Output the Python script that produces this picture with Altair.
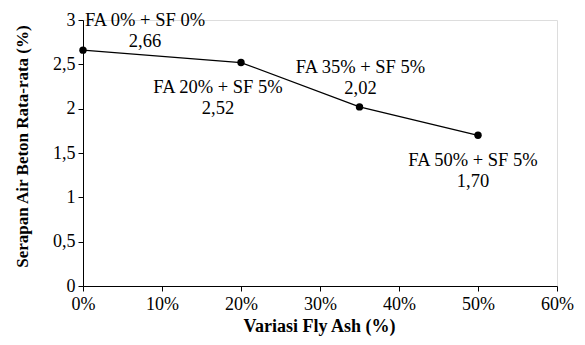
import altair as alt
import pandas as pd

fly_ash = [0, 20, 35, 50]
absorption = [2.66, 2.52, 2.02, 1.70]
mix_names = ["FA 0% + SF 0%", "FA 20% + SF 5%", "FA 35% + SF 5%", "FA 50% + SF 5%"]
x_ticks = [0, 10, 20, 30, 40, 50, 60]
y_ticks = [0, 0.5, 1, 1.5, 2, 2.5, 3]

df = pd.DataFrame({"fa": fly_ash, "val": absorption, "name": mix_names})

FONT = "Liberation Serif"

x_enc = alt.X("fa:Q", scale=alt.Scale(domain=[0, 60], nice=False),
              axis=alt.Axis(values=x_ticks, labelExpr="datum.value + '%'",
                            title="Variasi Fly Ash (%)", grid=False, labelFlush=False,
                            domainColor="black", tickColor="black", tickSize=5,
                            labelPadding=4, labelFontSize=18, labelFont=FONT,
                            labelColor="black", titleFont=FONT, titleFontSize=18,
                            titleFontWeight="bold", titleColor="black",
                            titleX=236, titleY=31, titleBaseline="top"))
y_enc = alt.Y("val:Q", scale=alt.Scale(domain=[0, 3], nice=False),
              axis=alt.Axis(values=y_ticks,
                            labelExpr="replace(format(datum.value, '~g'), '.', ',')",
                            title="Serapan Air Beton Rata-rata (%)", grid=False,
                            labelFlush=False,
                            domainColor="black", tickColor="black", tickSize=5,
                            labelPadding=3, labelFontSize=18, labelFont=FONT,
                            labelColor="black", titleFont=FONT, titleFontSize=17,
                            titleFontWeight="bold", titleColor="black",
                            titleX=-61, titleY=126, titleAngle=-90,
                            titleBaseline="middle"))

base = alt.Chart(df)
line = base.mark_line(color="black", strokeWidth=1.3).encode(x=x_enc, y=y_enc)
pts = base.mark_circle(color="black", opacity=1, size=55).encode(x="fa:Q", y="val:Q")

offsets = [(62, -30), (-23, 24), (1, -40), (-5, 25)]
layers = [line, pts]
for name, (dx, dy) in zip(mix_names, offsets):
    t = (base.transform_filter(alt.datum.name == name)
         .transform_calculate(label="datum.name + '\\n' + replace(format(datum.val, '.2f'), '.', ',')")
         .mark_text(font=FONT, fontSize=18.5, color="black", lineBreak="\n",
                    lineHeight=21, align="center", baseline="middle", dx=dx, dy=dy)
         .encode(x="fa:Q", y="val:Q", text="label:N"))
    layers.append(t)

chart = alt.layer(*layers).properties(
    width=474, height=266,
    autosize=alt.AutoSizeParams(type="none"),
    padding={"left": 83, "top": 20, "right": 28, "bottom": 59},
).configure_view(stroke=None).configure(background="white")

chart.save("out.html", embed_options={"renderer": "svg", "actions": False})
